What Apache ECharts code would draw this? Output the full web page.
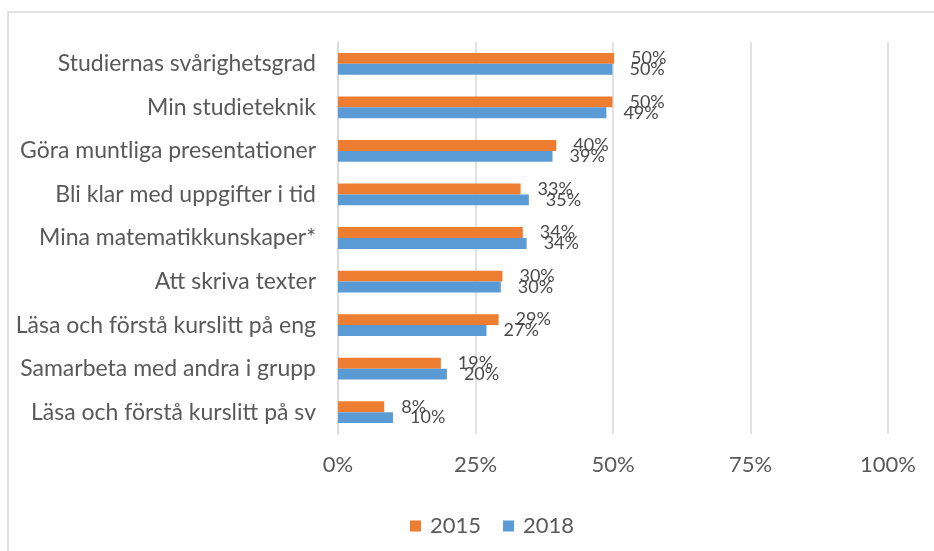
<!DOCTYPE html>
<html>
<head>
<meta charset="utf-8">
<script src="https://cdn.jsdelivr.net/npm/echarts@6/dist/echarts.min.js"></script>
<style>
  html, body { margin: 0; padding: 0; background: #fff; }
  #chart { width: 934px; height: 551px; }
</style>
</head>
<body>
<div id="chart"></div>
<script>
  const categories = [
    'Studiernas svårighetsgrad',
    'Min studieteknik',
    'Göra muntliga presentationer',
    'Bli klar med uppgifter i tid',
    'Mina matematikkunskaper*',
    'Att skriva texter',
    'Läsa och förstå kurslitt på eng',
    'Samarbeta med andra i grupp',
    'Läsa och förstå kurslitt på sv'
  ];
  const values2015 = [50.2, 49.9, 39.7, 33.2, 33.6, 29.9, 29.2, 18.7, 8.4];
  const values2018 = [49.9, 48.8, 39.0, 34.7, 34.3, 29.6, 27.0, 19.8, 10.0];
  const xTicks = [0, 25, 50, 75, 100];

  const font = 'Lato';
  const myChart = echarts.init(document.getElementById('chart'));

  const labelOpt = {
    show: true,
    position: 'right',
    distance: 17,
    color: '#4a4a4a',
    fontFamily: font,
    fontSize: 18,
    formatter: p => Math.round(p.value) + '%'
  };

  const option = {
    animation: false,
    graphic: [{
      type: 'rect',
      shape: { x: 8, y: 12, width: 940, height: 560 },
      style: { fill: 'none', stroke: '#d9d9d9', lineWidth: 1.5 }
    }],
    legend: {
      data: ['2015', '2018'],
      left: 405,
      top: 510,
      icon: 'rect',
      itemWidth: 11,
      itemHeight: 11,
      itemGap: 22,
      textStyle: { color: '#595959', fontFamily: font, fontSize: 22, padding: [0, 0, 0, 4] }
    },
    grid: {
      left: 338,
      right: 46,
      top: 42,
      bottom: 117
    },
    xAxis: {
      type: 'value',
      min: 0,
      max: 100,
      interval: 25,
      axisLine: { show: false },
      axisTick: { show: false },
      axisLabel: {
        margin: 20,
        color: '#595959',
        fontFamily: font,
        fontSize: 22,
        formatter: v => xTicks.includes(v) ? v + '%' : ''
      },
      splitLine: { lineStyle: { color: '#d9d9d9', width: 1.5 } }
    },
    yAxis: {
      type: 'category',
      data: categories,
      inverse: true,
      axisLine: { lineStyle: { color: '#d9d9d9', width: 1.5 } },
      axisTick: { show: false },
      axisLabel: {
        margin: 22,
        color: '#595959',
        fontFamily: font,
        fontSize: 23
      }
    },
    series: [
      {
        name: '2015',
        type: 'bar',
        data: values2015,
        barGap: '0%',
        barCategoryGap: '50%',
        itemStyle: { color: '#ED7D31' },
        label: labelOpt
      },
      {
        name: '2018',
        type: 'bar',
        data: values2018,
        barGap: '0%',
        barCategoryGap: '50%',
        itemStyle: { color: '#5B9BD5' },
        label: labelOpt
      }
    ]
  };

  myChart.setOption(option);
</script>
</body>
</html>
